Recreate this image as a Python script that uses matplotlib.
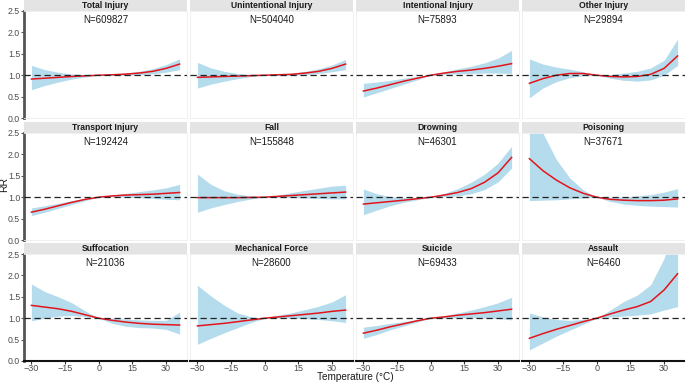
import matplotlib
matplotlib.use('Agg')
import matplotlib.pyplot as plt
from matplotlib.patches import Rectangle

plt.rcParams['font.family'] = ['Liberation Sans', 'DejaVu Sans']

# ---------------- data ----------------
temps = [-30, -24, -18, -12, -6, 0, 6, 12, 18, 24, 30, 36]

panel_names = ["Total Injury", "Unintentional Injury", "Intentional Injury", "Other Injury",
               "Transport Injury", "Fall", "Drowning", "Poisoning",
               "Suffocation", "Mechanical Force", "Suicide", "Assault"]
panel_n = [609827, 504040, 75893, 29894,
           192424, 155848, 46301, 37671,
           21036, 28600, 69433, 6460]

rr_total = [0.91, 0.93, 0.95, 0.97, 0.985, 1.0, 1.01, 1.025, 1.05, 1.09, 1.16, 1.26]
lo_total = [0.66, 0.76, 0.84, 0.91, 0.96, 1.0, 1.0, 1.0, 1.01, 1.03, 1.07, 1.13]
hi_total = [1.23, 1.13, 1.07, 1.03, 1.01, 1.0, 1.02, 1.05, 1.09, 1.15, 1.25, 1.38]

rr_unint = [0.95, 0.96, 0.97, 0.98, 0.99, 1.0, 1.01, 1.02, 1.05, 1.09, 1.16, 1.26]
lo_unint = [0.70, 0.79, 0.86, 0.92, 0.97, 1.0, 1.0, 1.0, 1.01, 1.04, 1.08, 1.13]
hi_unint = [1.30, 1.17, 1.09, 1.04, 1.01, 1.0, 1.02, 1.05, 1.09, 1.15, 1.24, 1.37]

rr_inten = [0.63, 0.70, 0.78, 0.86, 0.93, 1.0, 1.05, 1.09, 1.12, 1.16, 1.21, 1.27]
lo_inten = [0.49, 0.59, 0.69, 0.79, 0.89, 1.0, 1.02, 1.03, 1.04, 1.05, 1.05, 1.04]
hi_inten = [0.81, 0.84, 0.88, 0.93, 0.97, 1.0, 1.08, 1.15, 1.21, 1.29, 1.40, 1.58]

rr_other = [0.81, 0.92, 1.0, 1.04, 1.04, 1.0, 0.97, 0.96, 0.97, 1.02, 1.16, 1.45]
lo_other = [0.47, 0.70, 0.85, 0.94, 0.99, 1.0, 0.93, 0.88, 0.86, 0.89, 1.0, 1.23]
hi_other = [1.38, 1.26, 1.19, 1.14, 1.08, 1.0, 1.01, 1.05, 1.09, 1.17, 1.35, 1.84]

rr_trans = [0.65, 0.72, 0.80, 0.88, 0.95, 1.0, 1.03, 1.05, 1.06, 1.07, 1.09, 1.11]
lo_trans = [0.57, 0.65, 0.74, 0.83, 0.92, 1.0, 1.01, 1.0, 0.99, 0.97, 0.95, 0.94]
hi_trans = [0.75, 0.80, 0.86, 0.92, 0.97, 1.0, 1.05, 1.09, 1.13, 1.17, 1.22, 1.30]

rr_fall = [0.99, 0.99, 0.99, 0.99, 0.995, 1.0, 1.02, 1.04, 1.06, 1.08, 1.10, 1.12]
lo_fall = [0.65, 0.75, 0.83, 0.90, 0.96, 1.0, 0.99, 0.99, 0.98, 0.97, 0.96, 0.96]
hi_fall = [1.54, 1.30, 1.15, 1.07, 1.03, 1.0, 1.05, 1.11, 1.16, 1.21, 1.26, 1.28]

rr_drown = [0.84, 0.87, 0.90, 0.93, 0.965, 1.0, 1.05, 1.11, 1.20, 1.35, 1.57, 1.93]
lo_drown = [0.59, 0.70, 0.80, 0.88, 0.94, 1.0, 1.01, 1.03, 1.08, 1.18, 1.36, 1.68]
hi_drown = [1.19, 1.08, 1.01, 0.99, 0.99, 1.0, 1.09, 1.20, 1.35, 1.54, 1.80, 2.19]

rr_poison = [1.90, 1.62, 1.40, 1.22, 1.09, 1.0, 0.95, 0.93, 0.92, 0.92, 0.93, 0.96]
lo_poison = [0.92, 0.93, 0.94, 0.96, 0.98, 1.0, 0.90, 0.84, 0.81, 0.79, 0.78, 0.77]
hi_poison = [3.60, 2.50, 1.88, 1.45, 1.17, 1.0, 1.0, 1.01, 1.03, 1.06, 1.12, 1.20]

rr_suff = [1.30, 1.26, 1.22, 1.16, 1.08, 1.0, 0.95, 0.91, 0.88, 0.86, 0.85, 0.84]
lo_suff = [0.94, 1.0, 1.05, 1.06, 1.04, 1.0, 0.88, 0.81, 0.78, 0.77, 0.74, 0.63]
hi_suff = [1.80, 1.62, 1.50, 1.36, 1.17, 1.0, 1.0, 0.98, 0.96, 0.95, 0.95, 1.14]

rr_mech = [0.82, 0.85, 0.88, 0.92, 0.96, 1.0, 1.03, 1.06, 1.09, 1.12, 1.16, 1.19]
lo_mech = [0.39, 0.53, 0.66, 0.78, 0.90, 1.0, 1.0, 1.0, 0.99, 0.97, 0.94, 0.90]
hi_mech = [1.77, 1.52, 1.30, 1.12, 1.03, 1.0, 1.07, 1.13, 1.20, 1.28, 1.38, 1.55]

rr_suic = [0.65, 0.72, 0.80, 0.87, 0.94, 1.0, 1.03, 1.07, 1.10, 1.13, 1.17, 1.21]
lo_suic = [0.53, 0.62, 0.73, 0.82, 0.91, 1.0, 1.0, 1.01, 1.01, 1.0, 0.99, 0.96]
hi_suic = [0.79, 0.83, 0.88, 0.92, 0.97, 1.0, 1.06, 1.12, 1.19, 1.27, 1.36, 1.49]

rr_assault = [0.53, 0.64, 0.74, 0.83, 0.92, 1.0, 1.10, 1.19, 1.27, 1.39, 1.66, 2.04]
lo_assault = [0.26, 0.42, 0.58, 0.72, 0.86, 1.0, 1.03, 1.05, 1.07, 1.10, 1.19, 1.27]
hi_assault = [1.12, 1.03, 0.97, 0.95, 0.97, 1.0, 1.19, 1.39, 1.54, 1.78, 2.40, 3.50]

rr_list = [rr_total, rr_unint, rr_inten, rr_other, rr_trans, rr_fall, rr_drown,
           rr_poison, rr_suff, rr_mech, rr_suic, rr_assault]
lo_list = [lo_total, lo_unint, lo_inten, lo_other, lo_trans, lo_fall, lo_drown,
           lo_poison, lo_suff, lo_mech, lo_suic, lo_assault]
hi_list = [hi_total, hi_unint, hi_inten, hi_other, hi_trans, hi_fall, hi_drown,
           hi_poison, hi_suff, hi_mech, hi_suic, hi_assault]

x_ticks = [-30, -15, 0, 15, 30]
y_ticks = [0.0, 0.5, 1.0, 1.5, 2.0, 2.5]

# ---------------- layout ----------------
W, H = 685, 382
fig = plt.figure(figsize=(W / 100, H / 100), dpi=100)

col_left = [24, 190, 356, 522]
pw = 163
row_top = [11, 133, 254]
ph = 107
strip_h = 11

band_color = '#b5dcec'
line_color = '#e3141c'

for i, name in enumerate(panel_names):
    r, c = divmod(i, 4)
    x0 = col_left[c]
    y0 = row_top[r]
    ax = fig.add_axes([x0 / W, 1 - (y0 + ph) / H, pw / W, ph / H])
    ax.fill_between(temps, lo_list[i], hi_list[i], color=band_color, lw=0, zorder=1)
    ax.plot(temps, rr_list[i], color=line_color, lw=1.1, zorder=2)
    ax.axhline(1.0, color='#222222', lw=0.9, ls=(0, (5, 3)), zorder=3)
    ax.set_xlim(-33.3, 39.3)
    ax.set_ylim(0, 2.5)
    ax.text(3.0, 2.29, f"N={panel_n[i]}", ha='center', va='center', fontsize=7,
            color='#1a1a1a')

    for side in ['top', 'right', 'left', 'bottom']:
        ax.spines[side].set_color('#eeeeee')
        ax.spines[side].set_linewidth(0.6)

    if c == 0:
        ax.spines['left'].set_color('#555555')
        ax.spines['left'].set_linewidth(2.0)
        ax.set_yticks(y_ticks)
        ax.set_yticklabels([f"{v:.1f}" for v in y_ticks])
        ax.tick_params(axis='y', length=2, width=0.8, color='#555555', pad=0.8,
                       labelsize=6.3, labelcolor='#4d4d4d')
    else:
        ax.set_yticks(y_ticks)
        ax.tick_params(axis='y', length=0, labelleft=False)

    if r == 2:
        ax.spines['bottom'].set_color('#111111')
        ax.spines['bottom'].set_linewidth(1.5)
        ax.set_xticks(x_ticks)
        ax.set_xticklabels([("\u2212" + str(abs(v))) if v < 0 else str(v) for v in x_ticks])
        ax.tick_params(axis='x', length=2, width=0.8, color='#333333', pad=0.5,
                       labelsize=6.5, labelcolor='#4d4d4d')
    else:
        ax.set_xticks(x_ticks)
        ax.tick_params(axis='x', length=0, labelbottom=False)

    # strip
    fig.patches.append(Rectangle((x0 / W, 1 - y0 / H), pw / W, strip_h / H,
                                 transform=fig.transFigure, facecolor='#e4e4e4',
                                 edgecolor='none', zorder=0))
    fig.text((x0 + pw / 2) / W, 1 - (y0 - strip_h / 2) / H, name, ha='center',
             va='center', fontsize=6.2, fontweight='bold', color='#1a1a1a')

fig.text(4.5 / W, 1 - 185 / H, "RR", rotation=90, ha='center', va='center',
         fontsize=7.5, color='#1a1a1a')
fig.text(355 / W, 1 - 377.5 / H, "Temperature (\u00b0C)", ha='center', va='center',
         fontsize=7.2, color='#1a1a1a')

fig.savefig('out.png', dpi=100, facecolor='white')
